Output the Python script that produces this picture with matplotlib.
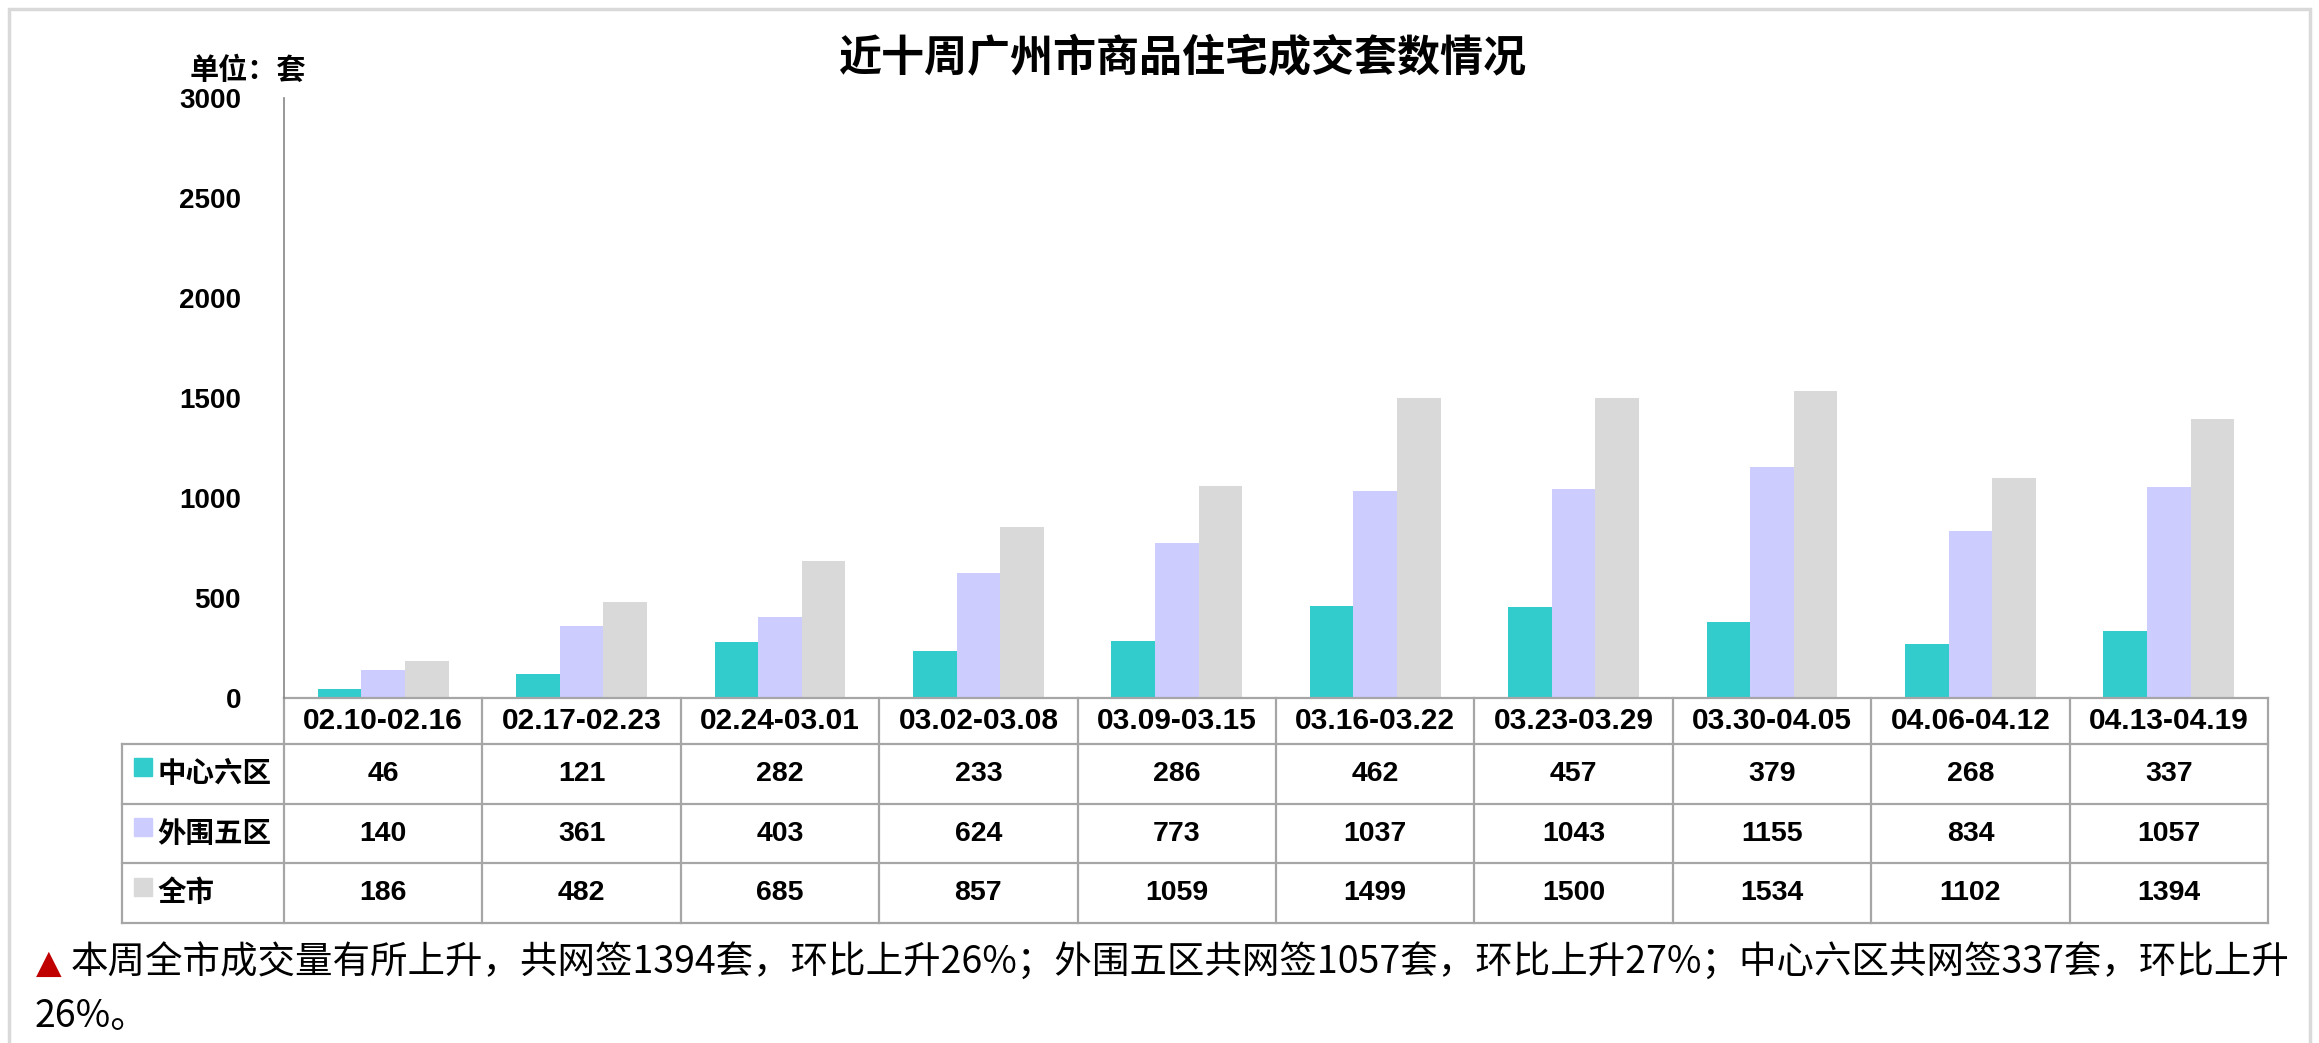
import matplotlib
matplotlib.use("Agg")
import matplotlib.pyplot as plt
import matplotlib.transforms as mtransforms
from matplotlib.patches import Rectangle
import numpy as np

plt.rcParams['font.family'] = ['Noto Sans CJK SC', 'DejaVu Sans']

# 数据
categories = ['02.10-02.16', '02.17-02.23', '02.24-03.01', '03.02-03.08', '03.09-03.15',
              '03.16-03.22', '03.23-03.29', '03.30-04.05', '04.06-04.12', '04.13-04.19']
series_names = ['中心六区', '外围五区', '全市']
core_six = [46, 121, 282, 233, 286, 462, 457, 379, 268, 337]
outer_five = [140, 361, 403, 624, 773, 1037, 1043, 1155, 834, 1057]
whole_city = [186, 482, 685, 857, 1059, 1499, 1500, 1534, 1102, 1394]
y_ticks = [0, 500, 1000, 1500, 2000, 2500, 3000]

colors = ['#33CCCC', '#CCCCFF', '#D9D9D9']
num_font = ['Liberation Sans', 'DejaVu Sans']
line_col = '#A6A6A6'

W, H = 2319, 1043
fig = plt.figure(figsize=(W / 100, H / 100), dpi=100)

# 外框
fig.patches.append(Rectangle((9 / W, -0.1), (2310 - 9) / W, 1.1 - 9 / H,
                             transform=fig.transFigure, fill=False,
                             edgecolor='#D9D9D9', lw=2.5))

ax_l, ax_r, ax_t, ax_b = 284, 2268, 98, 698
ax = fig.add_axes([ax_l / W, 1 - ax_b / H, (ax_r - ax_l) / W, (ax_b - ax_t) / H])
ax.patch.set_alpha(0)

x = np.arange(len(categories))
bw = 0.22
for k, vals in enumerate([core_six, outer_five, whole_city]):
    ax.bar(x + (k - 1) * bw, vals, width=bw, color=colors[k], zorder=2)

ax.set_xlim(-0.5, len(categories) - 0.5)
ax.set_ylim(0, 3000)
ax.set_yticks(y_ticks)
ax.set_yticklabels([str(v) for v in y_ticks], fontsize=20, fontweight='bold', family=num_font)
ax.tick_params(axis='y', length=0, pad=31)
ax.set_xticks([])
for s in ['top', 'right', 'bottom']:
    ax.spines[s].set_visible(False)
ax.spines['left'].set_color('#868686')
ax.spines['left'].set_linewidth(1.2)

# 数据表
trans = mtransforms.blended_transform_factory(ax.transData, ax.transAxes)
ax_h = ax_b - ax_t
col_w = (ax_r - ax_l) / len(categories)
hdr = 46 / ax_h
row = 59.7 / ax_h
x_left = -0.5 - (ax_l - 122) / col_w
x_right = len(categories) - 0.5
y_rows = [-hdr - row * i for i in range(4)]
bottom = y_rows[-1]

ax.plot([-0.5, x_right], [0, 0], color=line_col, lw=1.6, transform=trans, clip_on=False)
for yy in y_rows:
    ax.plot([x_left, x_right], [yy, yy], color=line_col, lw=1.6, transform=trans, clip_on=False)
for i in range(len(categories) + 1):
    ax.plot([i - 0.5, i - 0.5], [0, bottom], color=line_col, lw=1.6, transform=trans, clip_on=False)
ax.plot([x_left, x_left], [-hdr, bottom], color=line_col, lw=1.6, transform=trans, clip_on=False)

for i, c in enumerate(categories):
    ax.text(i, -hdr / 2, c, transform=trans, ha='center', va='center',
            fontsize=21.5, fontweight='bold', family=num_font)

for r, (name, vals) in enumerate(zip(series_names, [core_six, outer_five, whole_city])):
    yc = y_rows[r] - row / 2
    ax.plot([x_left + 0.106], [yc + 0.011], marker='s', markersize=12.5, color=colors[r],
            transform=trans, clip_on=False, linestyle='none')
    ax.text(x_left + 0.18, yc, name, transform=trans, ha='left', va='center',
            fontsize=20.5, fontweight='bold')
    for i, v in enumerate(vals):
        ax.text(i, yc, str(v), transform=trans, ha='center', va='center',
                fontsize=20.5, fontweight='bold', family=num_font)

# 标题
fig.text(1183 / W, 1 - 58 / H, '近十周广州市商品住宅成交套数情况', ha='center', va='center',
         fontsize=31, fontweight='bold')
fig.text(190 / W, 1 - 70 / H, '单位：套', ha='left', va='center', fontsize=21, fontweight='bold')

# 说明文字
fig.text(36 / W, 1 - 963 / H, '▲', color='#C00000', ha='left', va='center', fontsize=24,
         family=['DejaVu Sans'])
fig.text(71 / W, 1 - 963 / H,
         '本周全市成交量有所上升，共网签1394套，环比上升26%；外围五区共网签1057套，环比上升27%；中心六区共网签337套，环比上升',
         ha='left', va='center', fontsize=27)
fig.text(35 / W, 1 - 1017 / H, '26%。', ha='left', va='center', fontsize=27)

fig.savefig('out.png', dpi=100)
